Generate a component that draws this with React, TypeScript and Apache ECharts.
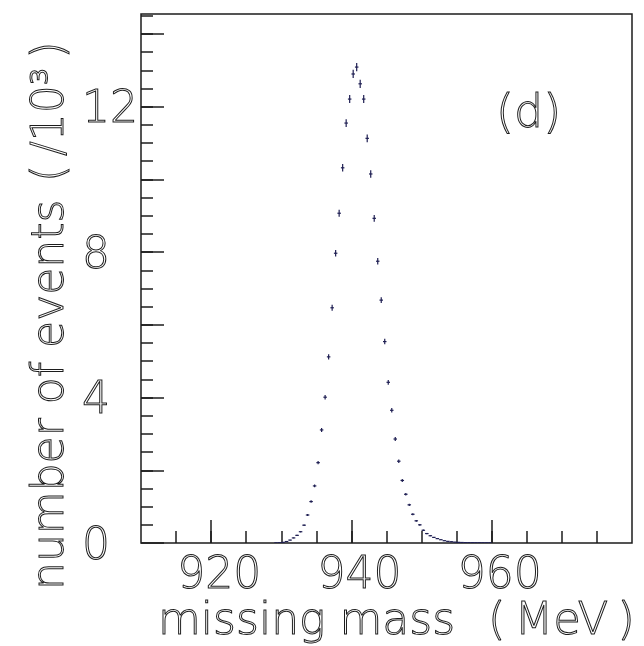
import React, { useEffect, useRef } from "react";
import * as echarts from "echarts";

// bin centres of the missing-mass histogram (MeV)
const massBins = [
  929.25, 929.75, 930.25, 930.75, 931.25, 931.75, 932.25, 932.75, 933.25, 933.75,
  934.25, 934.75, 935.25, 935.75, 936.25, 936.75, 937.25, 937.75, 938.25, 938.75,
  939.25, 939.75, 940.25, 940.75, 941.25, 941.75, 942.25, 942.75, 943.25, 943.75,
  944.25, 944.75, 945.25, 945.75, 946.25, 946.75, 947.25, 947.75, 948.25, 948.75,
  949.25, 949.75, 950.25, 950.75, 951.25, 951.75, 952.25, 952.75, 953.25, 953.75,
  954.25, 954.75, 955.25, 955.75, 956.25, 956.75, 957.25, 957.75, 958.25, 958.75,
  959.25, 959.75,
];

// number of events per bin (x 10^3)
const eventCounts = [
  0.004, 0.008, 0.018, 0.04, 0.08, 0.14, 0.21, 0.31, 0.49, 0.77,
  1.14, 1.57, 2.21, 3.11, 4.01, 5.12, 6.47, 7.97, 9.07, 10.32,
  11.55, 12.21, 12.9, 13.09, 12.63, 12.21, 11.13, 10.15, 8.93, 7.75,
  6.68, 5.54, 4.42, 3.65, 2.86, 2.25, 1.72, 1.34, 1.05, 0.79,
  0.61, 0.5, 0.35, 0.26, 0.2, 0.155, 0.12, 0.09, 0.063, 0.045,
  0.035, 0.025, 0.018, 0.014, 0.011, 0.009, 0.008, 0.007, 0.006, 0.006,
  0.005, 0.005,
];

const xMajorTicks = [920, 940, 960];
const xMinorTicks = [915, 920, 925, 930, 935, 940, 945, 950, 955, 960, 965, 970, 975];
const yMajorTicks = [0, 2, 4, 6, 8, 10, 12, 14];
const yMinorTicks = [
  0.5, 1, 1.5, 2, 2.5, 3, 3.5, 4, 4.5, 5, 5.5, 6, 6.5, 7, 7.5,
  8, 8.5, 9, 9.5, 10, 10.5, 11, 11.5, 12, 12.5, 13, 13.5, 14, 14.5,
];
const yLabelValues = [0, 4, 8, 12];

const X_MIN = 910;
const X_MAX = 980;
const Y_MIN = 0;
const Y_MAX = 14.55;
const BIN_HALF = 0.25;

const FONT = "DejaVu Sans";
const INK = "#1a1a1a";
const MARK = "#1c1c50";

export default function App() {
  const ref = useRef<HTMLDivElement>(null);

  useEffect(() => {
    if (!ref.current) return;
    const chart = echarts.init(ref.current, undefined, { renderer: "svg" });

    const outlineText = {
      fontFamily: FONT,
      fontWeight: 200 as any,
      color: "transparent",
      textBorderColor: INK,
      textBorderWidth: 1,
    };

    const tickStyle = { color: INK, width: 1.5 };

    const titleStyle = (text: string, size: number) => ({
      text,
      font: `200 ${size}px "${FONT}"`,
      fill: "transparent",
      stroke: INK,
      lineWidth: 1,
      lineHeight: 38,
      textAlign: "left",
      textVerticalAlign: "middle",
    });

    const option: any = {
      animation: false,
      backgroundColor: "transparent",
      grid: {
        left: 141,
        top: 14,
        right: 12,
        bottom: 103,
        containLabel: false,
        outerBoundsMode: "none",
        show: true,
        borderColor: INK,
        borderWidth: 1.5,
        backgroundColor: "transparent",
      },
      xAxis: [
        {
          type: "value",
          min: X_MIN,
          max: X_MAX,
          position: "bottom",
          axisLine: { show: false },
          splitLine: { show: false },
          axisTick: { show: true, inside: true, length: 23, customValues: xMajorTicks, lineStyle: tickStyle },
          axisLabel: {
            show: true,
            customValues: xMajorTicks,
            margin: 12,
            fontSize: 44,
            lineHeight: 34,
            padding: [0, 0, 0, 16],
            ...outlineText,
          },
        },
        {
          type: "value",
          min: X_MIN,
          max: X_MAX,
          position: "bottom",
          axisLine: { show: false },
          splitLine: { show: false },
          axisTick: { show: true, inside: true, length: 12, customValues: xMinorTicks, lineStyle: tickStyle },
          axisLabel: { show: false },
        },
      ],
      yAxis: [
        {
          type: "value",
          min: Y_MIN,
          max: Y_MAX,
          position: "left",
          axisLine: { show: false },
          splitLine: { show: false },
          axisTick: { show: true, inside: true, length: 23, customValues: yMajorTicks, lineStyle: tickStyle },
          axisLabel: {
            show: true,
            customValues: yLabelValues,
            align: "left",
            margin: 59,
            fontSize: 44,
            lineHeight: 34,
            ...outlineText,
          },
        },
        {
          type: "value",
          min: Y_MIN,
          max: Y_MAX,
          position: "left",
          axisLine: { show: false },
          splitLine: { show: false },
          axisTick: { show: true, inside: true, length: 12, customValues: yMinorTicks, lineStyle: tickStyle },
          axisLabel: { show: false },
        },
      ],
      graphic: [
        { type: "text", x: 158, y: 618, style: titleStyle("missing mass", 44) },
        { type: "text", x: 488, y: 618, style: titleStyle("(\u2009MeV\u2009)", 45) },
        { type: "text", x: 47, y: 590, rotation: Math.PI / 2, style: titleStyle("number of events", 44) },
        { type: "text", x: 47, y: 182, rotation: Math.PI / 2, style: titleStyle("(\u2009/10³\u2009)", 44) },
        { type: "text", x: 496, y: 111, style: titleStyle("(d)", 46) },
      ],
      series: [
        {
          type: "custom",
          xAxisIndex: 0,
          yAxisIndex: 0,
          clip: true,
          data: massBins.map((m, i) => [m, eventCounts[i]]),
          renderItem: (params: any, api: any) => {
            const x = api.value(0);
            const y = api.value(1);
            const err = Math.sqrt(y / 1000); // Poisson error of N = y*1000 events, in units of 10^3
            const pL = api.coord([x - BIN_HALF, y]);
            const pR = api.coord([x + BIN_HALF, y]);
            const pT = api.coord([x, y + err]);
            const pB = api.coord([x, y - err]);
            const style = { stroke: MARK, lineWidth: 1.2 };
            return {
              type: "group",
              children: [
                { type: "line", shape: { x1: pL[0], y1: pL[1], x2: pR[0], y2: pR[1] }, style },
                { type: "line", shape: { x1: pT[0], y1: pT[1], x2: pB[0], y2: pB[1] }, style },
              ],
            };
          },
        },
      ],
    };

    chart.setOption(option);
    return () => chart.dispose();
  }, []);

  return (
    <div
      ref={ref}
      style={{
        position: "absolute",
        left: 0,
        top: 0,
        width: 644,
        height: 646,
        willChange: "transform",
        transform: "translateZ(0)",
        opacity: 0.99,
      }}
    />
  );
}
